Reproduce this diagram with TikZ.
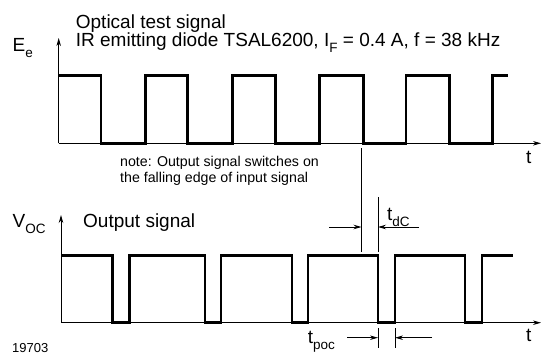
\documentclass[tikz,border=0pt]{standalone}
\usepackage{fontspec}
\setmainfont{Liberation Sans}
\usetikzlibrary{arrows.meta}
\newcommand\lowsub[1]{\raisebox{-0.32em}{\fontsize{13.5}{14}\selectfont #1}}
\tikzset{
  axis/.style={line width=0.8pt,-{Stealth[length=8pt,width=4.5pt]}},
  sig/.style={line width=2.6pt,line join=miter,line cap=butt},
  thin/.style={line width=0.8pt},
  dim/.style={line width=0.8pt,-{Stealth[length=8pt,width=4.5pt]}},
  lbl/.style={inner sep=0pt,anchor=base west,font=\fontsize{19}{21}\selectfont},
  note/.style={inner sep=0pt,anchor=base west,font=\fontsize{14.2}{16}\selectfont},
}
\begin{document}
\begin{tikzpicture}[x=1pt,y=-1pt]
\useasboundingbox (0,0) rectangle (543,354);
% axes
\coordinate (o1) at (58.7,143.3);
\coordinate (o2) at (61,322.7);
\draw[axis] (o1) -- (58.7,38);
\draw[axis] (o1) -- (541,143.3);
\draw[axis] (o2) -- (61,215);
\draw[axis] (o2) -- (541,322.7);
% top signal
\draw[sig] (58.7,75.7) -- (101,75.7) -- (101,143.3) -- (145.3,143.3) -- (145.3,75.7) -- (187.7,75.7) -- (187.7,143.3) -- (232.7,143.3) -- (232.7,75.7) -- (275.3,75.7) -- (275.3,143.3) -- (319.3,143.3) -- (319.3,75.7) -- (363.7,75.7) -- (363.7,143.3) -- (406,143.3) -- (406,75.7) -- (449.3,75.7) -- (449.3,143.3) -- (492.7,143.3) -- (492.7,75.7) -- (507.7,75.7);
% bottom signal
\draw[sig] (61,255.7) -- (112.7,255.7) -- (112.7,322.7) -- (129.3,322.7) -- (129.3,255.7) -- (205,255.7) -- (205,322.7) -- (221,322.7) -- (221,255.7) -- (292,255.7) -- (292,322.7) -- (308,322.7) -- (308,255.7) -- (378,255.7) -- (378,322.7) -- (395,322.7) -- (395,255.7) -- (465,255.7) -- (465,322.7) -- (482,322.7) -- (482,255.7) -- (513,255.7);
% tdC marks
\coordinate (fa) at (361.5,148);
\coordinate (fb) at (361.5,252);
\coordinate (ga) at (378,197);
\coordinate (gb) at (378,252);
\draw[thin] (fa) -- (fb);
\draw[thin] (ga) -- (gb);
\coordinate (d1s) at (329,227);
\coordinate (d1e) at (361.5,227);
\coordinate (d2s) at (419,227);
\coordinate (d2e) at (378,227);
\draw[dim] (d1s) -- (d1e);
\draw[dim] (d2s) -- (d2e);
% tpoc marks
\coordinate (pa) at (378,328);
\coordinate (pb) at (378,348);
\coordinate (qa) at (395,328);
\coordinate (qb) at (395,348);
\draw[thin] (pa) -- (pb);
\draw[thin] (qa) -- (qb);
\coordinate (p1s) at (347,337.7);
\coordinate (p1e) at (378,337.7);
\coordinate (p2s) at (432,337.7);
\coordinate (p2e) at (395,337.7);
\draw[dim] (p1s) -- (p1e);
\draw[dim] (p2s) -- (p2e);
% labels
\node[lbl] (title1) at (75.7,28) {Optical test signal};
\node[lbl] (title2) at (75.7,46) {IR emitting diode TSAL6200, I\lowsub{F} = 0.4 A, f = 38 kHz};
\node[lbl] (ee) at (12.4,51) {E\lowsub{e}};
\node[lbl] (voc) at (12.4,227) {V\lowsub{OC}};
\node[lbl] (outs) at (83,227) {Output signal};
\node[lbl] (t1) at (526,163) {t};
\node[lbl] (t2) at (526,341) {t};
\node[lbl] (tdc) at (387,220) {t\lowsub{dC}};
\node[lbl] (tpoc) at (307.7,343) {t\lowsub{poc}};
\node[note] (n1) at (120,166) {note: Output signal switches on};
\node[note] (n2) at (120,182) {the falling edge of input signal};
\node[inner sep=0pt,anchor=base west,font=\fontsize{13}{15}\selectfont] (num) at (12,352.7) {19703};
\end{tikzpicture}
\end{document}
